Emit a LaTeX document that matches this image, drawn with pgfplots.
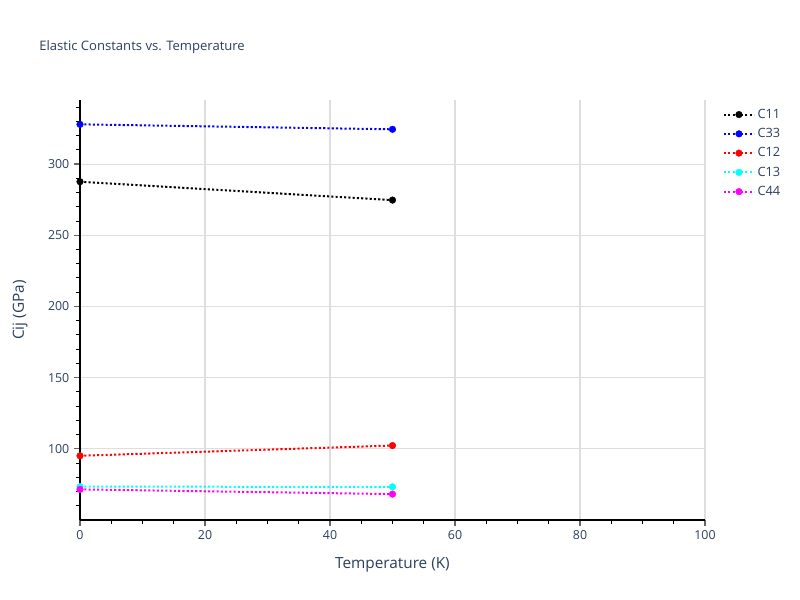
\documentclass[border=0pt]{standalone}
\usepackage{pgfplots}
\pgfplotsset{compat=1.18}
\usepackage{fontspec}
\setmainfont{Open Sans}
\definecolor{txt}{RGB}{42,63,95}
\definecolor{grd}{RGB}{222,222,222}
\definecolor{pcyan}{RGB}{0,255,255}
\definecolor{pmag}{RGB}{255,0,255}
\definecolor{pblue}{RGB}{0,0,255}
\definecolor{pred}{RGB}{255,0,0}
\begin{document}
\begin{tikzpicture}[x=1pt,y=1pt]
\useasboundingbox (-60,-60) rectangle (540,390);
\begin{axis}[
  at={(0,0)}, anchor=south west,
  scale only axis, width=468.75pt, height=315pt,
  xmin=0, xmax=100, ymin=50, ymax=345,
  axis x line*=bottom, axis y line*=left,
  axis line style={black, line width=0.9pt, -},
  xtick={0,20,40,60,80,100}, minor xtick={5,10,15,25,30,35,45,50,55,65,70,75,85,90,95},
  ytick={100,150,200,250,300}, minor ytick={60,70,80,90,110,120,130,140,160,170,180,190,210,220,230,240,260,270,280,290,310,320,330,340},
  tick align=outside,
  major tick length=4.5pt, minor tick length=3pt,
  major tick style={gray!80!black, line width=0.9pt},
  minor tick style={black, line width=0.7pt},
  grid=major, major grid style={grd, line width=0.8pt},
  tick label style={font=\fontsize{9.3}{10}\selectfont, color=txt},
  /pgf/number format/assume math mode=true,
  xlabel={Temperature (K)}, ylabel={Cij (GPa)},
  label style={font=\fontsize{11.5}{13}\selectfont, color=txt},
  xlabel style={at={(axis description cs:0.5,-0.1080)}, anchor=center},
  ylabel style={at={(axis description cs:-0.096,0.5)}, anchor=center},
  legend style={at={(1.022,0.992)}, anchor=north west, draw=none, fill=none,
    font=\fontsize{9.6}{10}\selectfont, text=txt, row sep=2.0pt, cells={anchor=west}},
  legend image code/.code={\draw[mark repeat=2,mark phase=2] plot coordinates {(0pt,0pt) (11.2pt,0pt) (22.4pt,0pt)};},
  every axis plot/.append style={line width=1.5pt, dash pattern=on 1.6pt off 1.6pt, mark=*, mark size=2.5pt, mark options={solid, line width=0.3pt}},
  clip=false,
]
\addplot[black] coordinates {(0,287.6) (50,274.7)};
\addlegendentry{C11}
\addplot[pblue] coordinates {(0,327.9) (50,324.4)};
\addlegendentry{C33}
\addplot[pred] coordinates {(0,95.1) (50,102.3)};
\addlegendentry{C12}
\addplot[pcyan] coordinates {(0,73.4) (50,73.3)};
\addlegendentry{C13}
\addplot[pmag] coordinates {(0,71.5) (50,68.2)};
\addlegendentry{C44}
\end{axis}
\node[anchor=base west, font=\fontsize{9.8}{11}\selectfont, color=txt] at (-34,352) {Elastic Constants vs. Temperature};
\end{tikzpicture}
\end{document}
